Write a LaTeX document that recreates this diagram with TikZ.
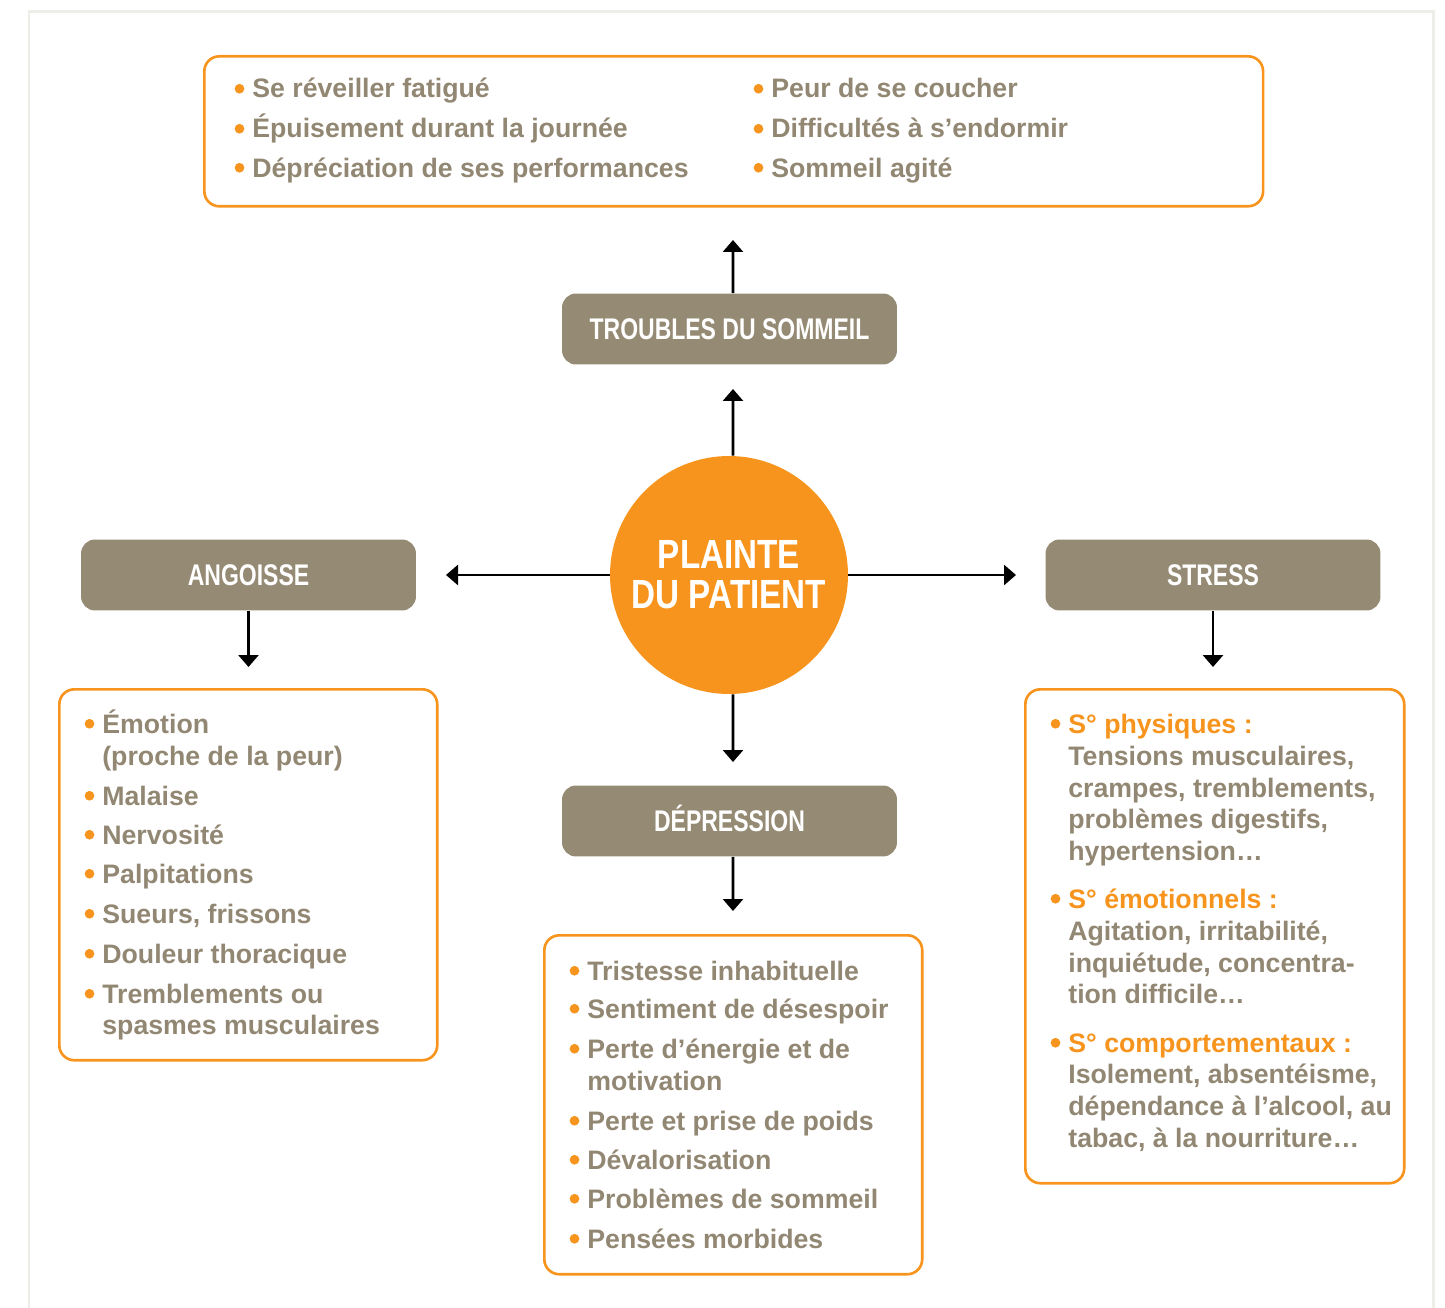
\documentclass[tikz,border=0pt]{standalone}
\usepackage{fontspec}
\setmainfont{Liberation Sans}
\newfontfamily\condfont[FakeStretch=0.77]{Liberation Sans}
\newfontfamily\condfontw[FakeStretch=0.815]{Liberation Sans}
\usetikzlibrary{arrows.meta}
\definecolor{orng}{RGB}{247,148,29}
\definecolor{taupe}{RGB}{149,138,116}
\definecolor{txtg}{RGB}{145,135,115}
\definecolor{frameg}{RGB}{238,238,232}
\newcommand\bul{\llap{\tikz[baseline=0pt]\fill[orng] (0,0.185cm) circle (0.097cm);\kern0.16cm}}
\newcommand\lline[5]{\node[#1] (#2) at (#3,#4) {#5};}
\begin{document}
\begin{tikzpicture}[x=0.02cm,y=-0.02cm,
  listbox/.style={draw=orng,line width=1.5pt,rounded corners=0.3cm,inner sep=0,anchor=north west},
  hdr/.style={fill=taupe,rounded corners=0.28cm,text=white,font=\condfont\bfseries\fontsize{17}{20}\selectfont,minimum width=6.7cm,minimum height=1.42cm,text height=0.43cm,text depth=0cm,inner sep=0},
  ln/.style={anchor=base west,inner sep=0,text=txtg,font=\bfseries\fontsize{15.2}{18}\selectfont},
  oln/.style={ln,text=orng},
  arr/.style={line width=1.6pt,-{Triangle[width=0.4cm,length=0.24cm]}},
]
\useasboundingbox (0,0) rectangle (1445,1308);
% outer frame
\draw[frameg,line width=1.7pt] (29,1308) -- (29,11.5) -- (1433.5,11.5) -- (1433.5,1308);

% list boxes
\node[listbox,minimum width=21.18cm,minimum height=3cm] (topbox) at (203,55) {};
\node[listbox,minimum width=7.56cm,minimum height=7.42cm] (leftbox) at (58,688) {};
\node[listbox,minimum width=7.56cm,minimum height=6.78cm] (botbox) at (543,934) {};
\node[listbox,minimum width=7.58cm,minimum height=9.88cm] (rightbox) at (1024,688) {};

% header boxes
\node[hdr] (ts) at (729.5,329) {TROUBLES DU SOMMEIL};
\node[hdr] (ang) at (248.5,575) {ANGOISSE};
\node[hdr] (str) at (1213,575) {STRESS};
\node[hdr] (dep) at (729.5,821) {DÉPRESSION};

% central circle
\node[circle,fill=orng,minimum size=4.76cm,inner sep=0,text=white,align=center,
  font=\condfontw\bfseries\fontsize{23.2}{22.76}\selectfont] (pc) at (729,575) {PLAINTE\\DU PATIENT};

% connectors
\coordinate (upA) at (733,240);
\coordinate (upB) at (733,389);
\coordinate (lt) at (446,575);
\coordinate (rt) at (1016,575);
\coordinate (dnA) at (248.5,667);
\coordinate (dnS) at (1213,667);
\coordinate (dnC) at (733,762);
\coordinate (dnD) at (733,911);
\draw[arr] ([xshift=0.07cm]ts.north) -- (upA);
\draw[arr] ([xshift=0.08cm]pc.north) -- (upB);
\draw[arr] (pc.west) -- (lt);
\draw[arr] (pc.east) -- (rt);
\draw[arr] (ang.south) -- (dnA);
\draw[arr] (str.south) -- (dnS);
\draw[arr] ([xshift=0.08cm]pc.south) -- (dnC);
\draw[arr] ([xshift=0.07cm]dep.south) -- (dnD);

% top box text
\lline{ln}{t1}{252}{98}{\bul Se réveiller fatigué}
\lline{ln}{t2}{252}{138}{\bul Épuisement durant la journée}
\lline{ln}{t3}{252}{177}{\bul Dépréciation de ses performances}
\lline{ln}{t4}{771}{98}{\bul Peur de se coucher}
\lline{ln}{t5}{771}{138}{\bul Difficultés à s’endormir}
\lline{ln}{t6}{771}{177}{\bul Sommeil agité}

% left box text
\lline{ln}{a1}{102}{733}{\bul Émotion}
\lline{ln}{a2}{102}{765}{(proche de la peur)}
\lline{ln}{a3}{102}{805}{\bul Malaise}
\lline{ln}{a4}{102}{844}{\bul Nervosité}
\lline{ln}{a5}{102}{883}{\bul Palpitations}
\lline{ln}{a6}{102}{923}{\bul Sueurs, frissons}
\lline{ln}{a7}{102}{963}{\bul Douleur thoracique}
\lline{ln}{a8}{102}{1003}{\bul Tremblements ou}
\lline{ln}{a9}{102}{1034}{spasmes musculaires}

% bottom box text
\lline{ln}{d1}{587}{980}{\bul Tristesse inhabituelle}
\lline{ln}{d2}{587}{1018}{\bul Sentiment de désespoir}
\lline{ln}{d3}{587}{1058}{\bul Perte d’énergie et de}
\lline{ln}{d4}{587}{1090}{motivation}
\lline{ln}{d5}{587}{1130}{\bul Perte et prise de poids}
\lline{ln}{d6}{587}{1169}{\bul Dévalorisation}
\lline{ln}{d7}{587}{1208}{\bul Problèmes de sommeil}
\lline{ln}{d8}{587}{1248}{\bul Pensées morbides}

% right box text
\lline{oln}{s1}{1068}{733}{\bul S° physiques :}
\lline{ln}{s2}{1068}{765}{Tensions musculaires,}
\lline{ln}{s3}{1068}{797}{crampes, tremblements,}
\lline{ln}{s4}{1068}{828}{problèmes digestifs,}
\lline{ln}{s5}{1068}{860}{hypertension…}
\lline{oln}{s6}{1068}{908}{\bul S° émotionnels :}
\lline{ln}{s7}{1068}{940}{Agitation, irritabilité,}
\lline{ln}{s8}{1068}{972}{inquiétude, concentra-}
\lline{ln}{s9}{1068}{1003}{tion difficile…}
\lline{oln}{s10}{1068}{1052}{\bul S° comportementaux :}
\lline{ln}{s11}{1068}{1083}{Isolement, absentéisme,}
\lline{ln}{s12}{1068}{1115}{dépendance à l’alcool, au}
\lline{ln}{s13}{1068}{1147}{tabac, à la nourriture…}
\end{tikzpicture}
\end{document}
